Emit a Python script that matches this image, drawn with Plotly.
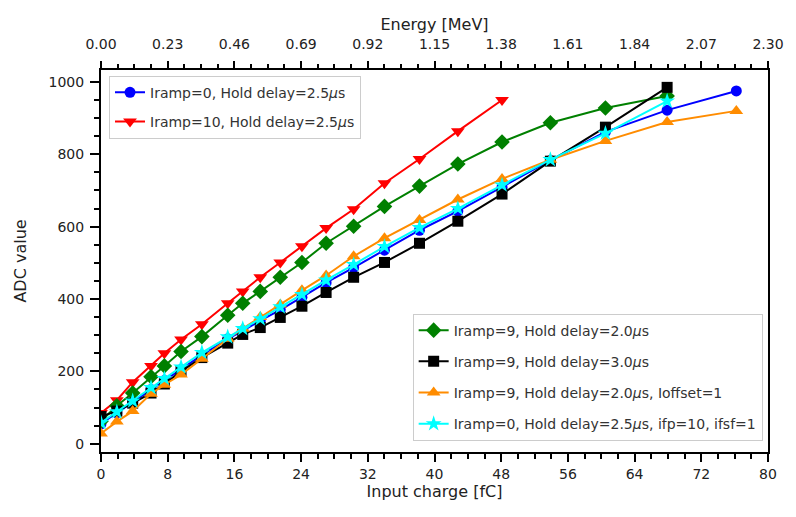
import plotly.graph_objects as go

# Input charge [fC]
x_all = [0, 1.9, 3.8, 6.0, 7.6, 9.6, 12.1, 15.2, 17.0, 19.1, 21.5, 24.1, 27.0, 30.3,
         34.0, 38.2, 42.8, 48.1, 53.9, 60.5, 67.9, 76.2]

blue_x = x_all
blue_y = [55, 85, 115, 150, 175, 205, 245, 290, 312, 340, 370, 405, 445, 487,
          535, 590, 643, 709, 783, 862, 922, 975]

red_x = x_all[:18]
red_y = [85, 120, 170, 215, 250, 288, 330, 388, 421, 460, 501, 546, 596, 648,
         720, 787, 864, 950]

green_x = x_all[:21]
green_y = [62, 105, 140, 185, 215, 255, 296, 355, 388, 421, 460, 501, 554, 601,
           656, 712, 773, 834, 887, 928, 961]

black_x = x_all[:21]
black_y = [75, 90, 112, 140, 165, 200, 238, 278, 302, 321, 349, 380, 418, 460,
           501, 554, 615, 690, 781, 875, 985]

orange_x = x_all
orange_y = [28, 61, 90, 138, 163, 191, 235, 290, 318, 350, 385, 424, 465, 518,
            568, 618, 675, 732, 785, 837, 889, 920]

cyan_x = x_all[:21]
cyan_y = [58, 88, 118, 155, 180, 212, 252, 295, 318, 345, 378, 412, 452, 495,
          545, 597, 650, 715, 785, 858, 947]

x_ticks = [0, 8, 16, 24, 32, 40, 48, 56, 64, 72, 80]
energy_labels = ["0.00", "0.23", "0.46", "0.69", "0.92", "1.15", "1.38", "1.61",
                 "1.84", "2.07", "2.30"]

series = [
    ("Iramp=0, Hold delay=2.5<i>μ</i>s", blue_x, blue_y, "blue", "circle", 11, "legend"),
    ("Iramp=10, Hold delay=2.5<i>μ</i>s", red_x, red_y, "red", "triangle-down", 12, "legend"),
    ("Iramp=9, Hold delay=2.0<i>μ</i>s", green_x, green_y, "green", "diamond", 12, "legend2"),
    ("Iramp=9, Hold delay=3.0<i>μ</i>s", black_x, black_y, "black", "square", 11, "legend2"),
    ("Iramp=9, Hold delay=2.0<i>μ</i>s, Ioffset=1", orange_x, orange_y, "darkorange", "triangle-up", 12, "legend2"),
    ("Iramp=0, Hold delay=2.5<i>μ</i>s, ifp=10, ifsf=1", cyan_x, cyan_y, "cyan", "star", 12, "legend2"),
]

fig = go.Figure()
for i, (name, xs, ys, col, sym, sz, lg) in enumerate(series):
    fig.add_trace(go.Scatter(
        x=xs, y=ys, mode="lines+markers", name=name, legend=lg,
        legendgroup=f"g{i}",
        line=dict(color=col, width=2),
        marker=dict(color=col, symbol=sym, size=sz, line=dict(width=0)),
    ))

font_family = "DejaVu Sans"
tick_font = dict(family=font_family, size=14, color="#222")
title_font = dict(family=font_family, size=16, color="#222")
legend_font = dict(family=font_family, size=14, color="#333")

fig.update_layout(
    width=796, height=517,
    margin=dict(l=101, r=20, t=70, b=65),
    paper_bgcolor="white", plot_bgcolor="white",
    font=dict(family=font_family, color="#222"),
    xaxis=dict(
        range=[0, 80], tickvals=x_ticks, ticks="outside", ticklen=8, tickwidth=2,
        tickcolor="black", showline=True, linewidth=2, linecolor="black", mirror=True,
        showgrid=False, zeroline=False, tickfont=tick_font,
        title=dict(text="Input charge [fC]", font=title_font, standoff=5),
        minor=dict(dtick=2, ticks="outside", ticklen=5, tickwidth=1.5, tickcolor="black", showgrid=False),
    ),
    xaxis2=dict(
        range=[0, 80], overlaying="x", side="top", tickvals=x_ticks, ticktext=energy_labels,
        ticks="outside", ticklen=8, tickwidth=2, tickcolor="black", showgrid=False,
        zeroline=False, tickfont=tick_font, ticklabelstandoff=6,
        title=dict(text="Energy [MeV]", font=title_font, standoff=1),
        minor=dict(dtick=2, ticks="outside", ticklen=5, tickwidth=1.5, tickcolor="black", showgrid=False),
    ),
    yaxis=dict(
        range=[-23, 1033], tickvals=[0, 200, 400, 600, 800, 1000], ticks="outside",
        ticklen=9, tickwidth=2, tickcolor="black", showline=True, linewidth=2,
        linecolor="black", mirror=True, showgrid=False, zeroline=False, tickfont=tick_font,
        ticklabelstandoff=3,
        title=dict(text="ADC value", font=title_font, standoff=18),
        minor=dict(dtick=50, ticks="outside", ticklen=5, tickwidth=1.5, tickcolor="black", showgrid=False),
    ),
    legend=dict(
        x=0.012, y=0.985, xanchor="left", yanchor="top",
        bgcolor="rgba(255,255,255,0.8)", bordercolor="#cccccc", borderwidth=1,
        font=legend_font, tracegroupgap=8, traceorder="grouped",
    ),
    legend2=dict(
        x=0.992, y=0.03, xanchor="right", yanchor="bottom",
        bgcolor="rgba(255,255,255,0.8)", bordercolor="#cccccc", borderwidth=1,
        font=legend_font, tracegroupgap=10, traceorder="grouped",
    ),
)

# attach the energy (top) axis to an empty helper trace so it is drawn
fig.add_trace(go.Scatter(x=[x_ticks[0]], y=[None], xaxis="x2", showlegend=False,
                         hoverinfo="skip", mode="markers"))

fig.write_html("out.html")
